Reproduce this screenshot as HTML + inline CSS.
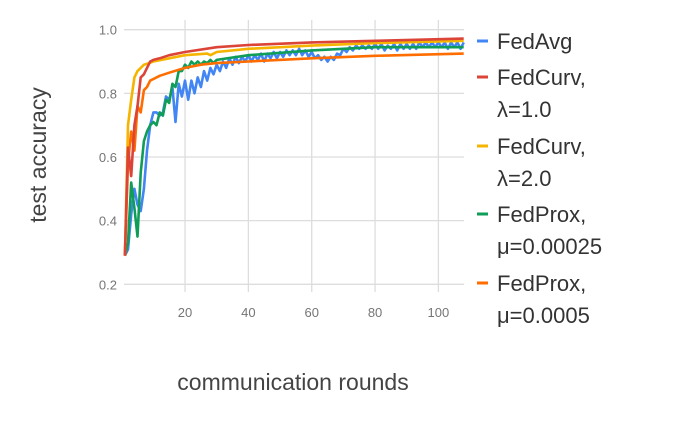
<!DOCTYPE html>
<html><head><meta charset="utf-8"><style>
body{margin:0;background:#fff;width:675px;height:418px;overflow:hidden;font-family:"Liberation Sans",sans-serif}
</style></head><body>
<svg id="chart" width="675" height="418" xmlns="http://www.w3.org/2000/svg">
<g id="grid"></g>
<g id="series"></g>
<text x="0" y="0" transform="translate(46,155) rotate(-90)" text-anchor="middle" font-size="23" fill="#444">test accuracy</text>
<text x="293" y="390" text-anchor="middle" font-size="23" fill="#444">communication rounds</text>
<g id="legend" font-size="22" fill="#333"></g>
</svg>
<script>
const xTicks=[20,40,60,80,100];
const yTicks=[0.2,0.4,0.6,0.8,1.0];
const yTickLabels=["0.2","0.4","0.6","0.8","1.0"];
const seriesNames=["FedAvg","FedCurv,|λ=1.0","FedCurv,|λ=2.0","FedProx,|μ=0.00025","FedProx,|μ=0.0005"];
const fedAvgX=[1,2,3,4,5,6,7,8,9,10,11,12,13,14,15,16,17,18,19,20,21,22,23,24,25,26,27,28,29,30,31,32,33,34,35,36,37,38,39,40,41,42,43,44,45,46,47,48,49,50,51,52,53,54,55,56,57,58,59,60,61,62,63,64,65,66,67,68,69,70,71,72,73,74,75,76,77,78,79,80,81,82,83,84,85,86,87,88,89,90,91,92,93,94,95,96,97,98,99,100,101,102,103,104,105,106,107,108];
const fedAvgY=[0.29,0.31,0.42,0.5,0.45,0.43,0.5,0.62,0.7,0.74,0.74,0.73,0.74,0.79,0.78,0.82,0.71,0.83,0.79,0.84,0.78,0.84,0.8,0.85,0.82,0.87,0.84,0.88,0.86,0.89,0.87,0.9,0.88,0.91,0.89,0.915,0.895,0.915,0.9,0.92,0.9,0.92,0.905,0.925,0.9,0.925,0.91,0.93,0.91,0.93,0.915,0.935,0.92,0.935,0.92,0.94,0.92,0.935,0.915,0.93,0.91,0.92,0.905,0.915,0.9,0.915,0.905,0.925,0.92,0.94,0.93,0.945,0.935,0.95,0.94,0.95,0.94,0.95,0.94,0.955,0.94,0.955,0.935,0.95,0.94,0.955,0.935,0.955,0.94,0.955,0.94,0.955,0.94,0.96,0.945,0.96,0.945,0.96,0.945,0.96,0.945,0.96,0.94,0.96,0.945,0.96,0.94,0.96];
const fedCurv1X=[1,2,3,4,5,6,7,8,9,10,12,15,20,30,40,60,80,108];
const fedCurv1Y=[0.29,0.63,0.54,0.7,0.76,0.85,0.86,0.88,0.9,0.905,0.91,0.92,0.93,0.945,0.952,0.96,0.965,0.972];
const fedCurv2X=[1,2,3,4,5,6,7,8,10,15,20,27,28,30,40,60,80,108];
const fedCurv2Y=[0.29,0.7,0.78,0.85,0.87,0.88,0.89,0.893,0.9,0.91,0.92,0.925,0.92,0.93,0.94,0.95,0.958,0.965];
const fedProx1X=[1,2,3,4,5,6,7,8,9,10,11,12,13,14,15,16,17,18,19,20,21,22,23,24,25,26,27,28,29,30,40,60,80,108];
const fedProx1Y=[0.29,0.33,0.52,0.44,0.35,0.55,0.65,0.68,0.7,0.71,0.7,0.74,0.73,0.78,0.77,0.83,0.82,0.87,0.87,0.89,0.88,0.9,0.89,0.9,0.89,0.9,0.895,0.905,0.895,0.905,0.92,0.935,0.945,0.945];
const fedProx2X=[1,2,3,4,5,6,7,8,9,10,12,15,20,25,30,40,60,80,108];
const fedProx2Y=[0.29,0.58,0.68,0.62,0.76,0.74,0.81,0.82,0.84,0.845,0.855,0.865,0.88,0.89,0.895,0.9,0.91,0.918,0.925];
const seriesColors=["#4285F4","#DB4437","#F4B400","#0F9D58","#FF6D00"];

const X0=124,X1=464,Y0=292;
const xs=v=>121.7+(v)*3.167;
const ys=v=>284.3-(v-0.2)*318.25;
const NS="http://www.w3.org/2000/svg";
function mk(t,a,p){const e=document.createElementNS(NS,t);for(const k in a)e.setAttribute(k,a[k]);p.appendChild(e);return e;}
const grid=document.getElementById('grid');
yTicks.forEach((t,i)=>{
  const l=mk('line',{x1:X0,x2:X1,y1:ys(t),y2:ys(t),stroke:'#ddd','stroke-width':1.3},grid);
  
  
  const tx=mk('text',{x:117,y:ys(t)+5,'text-anchor':'end','font-size':13,fill:'#757575'},grid);
  tx.textContent=yTickLabels[i];
  
  
});
xTicks.forEach(t=>{
  const l=mk('line',{x1:xs(t),x2:xs(t),y1:20,y2:Y0,stroke:'#ddd','stroke-width':1.3},grid);
  
  
  const tx=mk('text',{x:xs(t),y:317,'text-anchor':'middle','font-size':13,fill:'#757575'},grid);
  tx.textContent=String(t);
  
  
});
const allX=[fedAvgX,fedCurv1X,fedCurv2X,fedProx1X,fedProx2X];
const allY=[fedAvgY,fedCurv1Y,fedCurv2Y,fedProx1Y,fedProx2Y];
const order=[0,3,4,2,1];
const sg=document.getElementById('series');
const lineNames=['fedavg-line','fedcurv-1-line','fedcurv-2-line','fedprox-00025-line','fedprox-0005-line'];
order.forEach(i=>{
  const d=allX[i].map((x,j)=>(j?'L':'M')+xs(x).toFixed(1)+','+ys(allY[i][j]).toFixed(1)).join('');
  const p=mk('path',{d:d,fill:'none',stroke:seriesColors[i],'stroke-width':2.6,'stroke-linejoin':'round'},sg);
  
  
});
const lg=document.getElementById('legend');
const legY=[42,78,147,215,284];
seriesNames.forEach((n,i)=>{
  const m=mk('line',{x1:477,x2:488,y1:legY[i]-1,y2:legY[i]-1,stroke:seriesColors[i],'stroke-width':3},lg);
  
  
  n.split('|').forEach((s,k)=>{
    const t=mk('text',{x:497,y:legY[i]+7+k*32},lg);
    t.textContent=s;
    
    
  });
});
</script>
</body></html>
